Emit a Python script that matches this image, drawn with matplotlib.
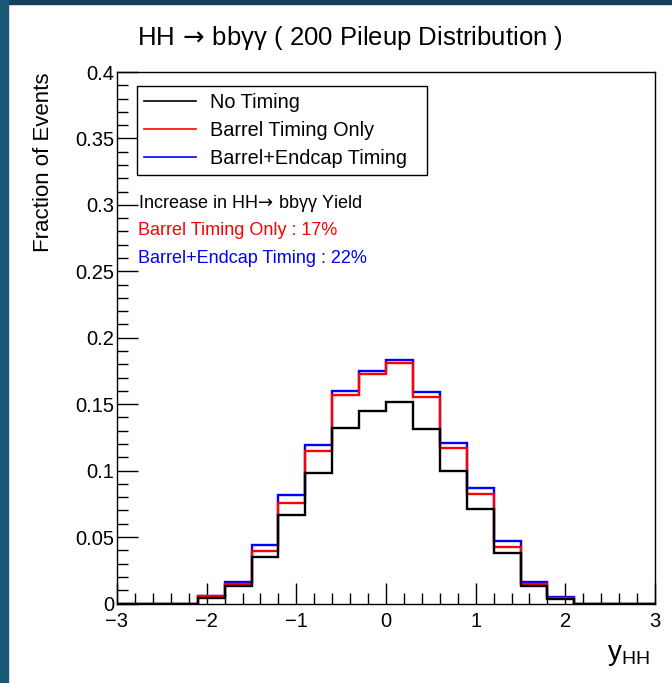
import numpy as np
import matplotlib.pyplot as plt
from matplotlib.patches import Rectangle
from matplotlib.lines import Line2D
from matplotlib.ticker import MultipleLocator, FuncFormatter

plt.rcParams['font.family'] = ['Liberation Sans', 'DejaVu Sans']
plt.rcParams['mathtext.fontset'] = 'custom'
plt.rcParams['mathtext.rm'] = 'Liberation Sans'
plt.rcParams['mathtext.it'] = 'Liberation Sans'

# 20 bins of width 0.3 in y_HH
edges = np.linspace(-3, 3, 21)

no_timing = [0, 0, 0, 0.0045, 0.0128, 0.0349, 0.0663, 0.098, 0.132, 0.145,
             0.152, 0.1315, 0.0994, 0.0713, 0.0379, 0.0128, 0.0035, 0, 0, 0]
barrel = [0, 0, 0, 0.0055, 0.0143, 0.0392, 0.076, 0.115, 0.1566, 0.173,
          0.181, 0.1556, 0.1167, 0.0823, 0.0424, 0.0143, 0.0042, 0, 0, 0]
barrel_endcap = [0, 0, 0, 0.006, 0.0163, 0.0437, 0.0813, 0.1195, 0.1596, 0.175,
                 0.1835, 0.159, 0.121, 0.0873, 0.0472, 0.0163, 0.005, 0, 0, 0]

labels = ['No Timing', 'Barrel Timing Only', 'Barrel+Endcap Timing']
colors = ['black', 'red', 'blue']
yields = ['Barrel Timing Only : 17%', 'Barrel+Endcap Timing : 22%']

W, H = 672, 683
fig = plt.figure(figsize=(W / 100, H / 100), dpi=100, facecolor='white')

# dark frame strips of the slide
fig.patches.append(Rectangle((0, 1 - 4 / H), 1, 4 / H, transform=fig.transFigure,
                             color='#163f5c', zorder=0))
fig.patches.append(Rectangle((0, 0), 8 / W, 1, transform=fig.transFigure,
                             color='#1a5878', zorder=0))

ax = fig.add_axes([117 / W, 1 - 603.5 / H, 538 / W, 531.5 / H])

for vals, col, z in zip([barrel_endcap, barrel, no_timing], ['blue', 'red', 'black'], [2, 3, 4]):
    ax.stairs(vals, edges, color=col, lw=1.7, zorder=z)

ax.set_xlim(-3, 3)
ax.set_ylim(0, 0.4)
ax.xaxis.set_major_locator(MultipleLocator(1))
ax.xaxis.set_minor_locator(MultipleLocator(0.2))
ax.yaxis.set_major_locator(MultipleLocator(0.05))
ax.yaxis.set_minor_locator(MultipleLocator(0.01))
ax.yaxis.set_major_formatter(FuncFormatter(lambda v, p: '%g' % round(v, 3)))
ax.tick_params(which='both', direction='in', top=False, right=False, labelsize=14.5)
ax.tick_params(which='major', length=15, width=1)
ax.tick_params(which='minor', length=8, width=1)
ax.tick_params(axis='x', pad=6)
ax.tick_params(axis='y', pad=2)
for s in ax.spines.values():
    s.set_linewidth(1)

handles = [Line2D([], [], color=c, lw=1.2) for c in colors]
leg = ax.legend(handles, labels, loc='upper left',
                bbox_to_anchor=(0.0372, 0.5, 0.539, 0.4737), mode='expand',
                fontsize=14.3, frameon=True, fancybox=False, edgecolor='black',
                framealpha=1, handlelength=2.6, handletextpad=0.7,
                labelspacing=0.45, borderpad=0.35, borderaxespad=0)
leg.get_frame().set_linewidth(1)

arrow = r'$\!\rightarrow\!$'
ax.text(0.039, 0.7535, 'Increase in HH' + arrow + ' bb\u03b3\u03b3 Yield',
        transform=ax.transAxes, fontsize=13, va='center', ha='left',
        math_fontfamily='dejavusans')
ax.text(0.039, 0.701, yields[0], transform=ax.transAxes, color='red',
        fontsize=13, va='center', ha='left')
ax.text(0.039, 0.650, yields[1], transform=ax.transAxes, color='blue',
        fontsize=13, va='center', ha='left')

fig.text(350 / W, 1 - 38 / H, 'HH ' + arrow + ' bb\u03b3\u03b3 ( 200 Pileup Distribution )',
         ha='center', va='center', fontsize=18.5, math_fontfamily='dejavusans')
fig.text(44 / W, 1 - 72 / H, 'Fraction of Events', rotation=90,
         ha='center', va='top', fontsize=16)
fig.text(650 / W, 1 - 660 / H, r'$\mathrm{y}_{\mathrm{HH}}$', ha='right',
         va='baseline', fontsize=20)

fig.savefig('out.png', dpi=100, facecolor='white')
